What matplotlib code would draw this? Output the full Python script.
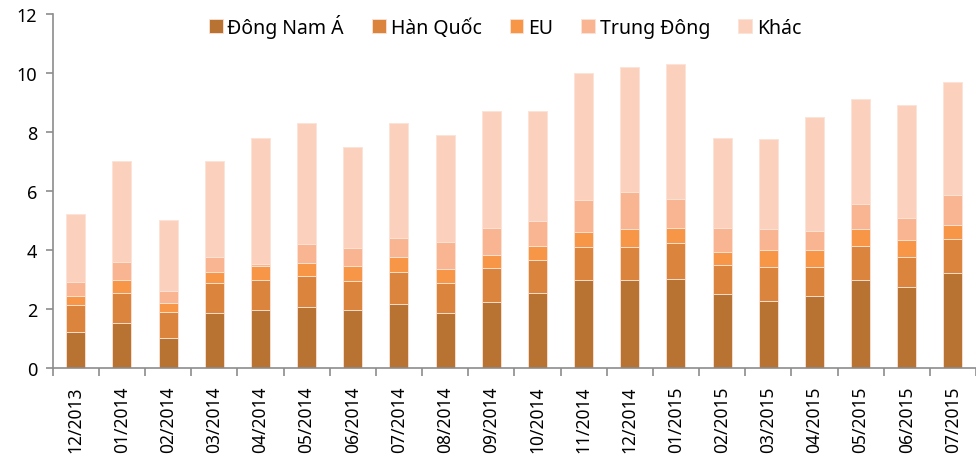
import matplotlib
matplotlib.use('Agg')
import matplotlib.pyplot as plt
import numpy as np

plt.rcParams['font.family'] = ['Noto Sans', 'DejaVu Sans']

thang = ['12/2013', '01/2014', '02/2014', '03/2014', '04/2014', '05/2014', '06/2014',
         '07/2014', '08/2014', '09/2014', '10/2014', '11/2014', '12/2014', '01/2015',
         '02/2015', '03/2015', '04/2015', '05/2015', '06/2015', '07/2015']

dong_nam_a = [1.20, 1.53, 1.00, 1.87, 1.97, 2.07, 1.97, 2.17, 1.87, 2.24,
              2.55, 2.99, 2.99, 3.01, 2.50, 2.28, 2.43, 2.99, 2.75, 3.21]
han_quoc = [0.94, 1.02, 0.90, 1.00, 1.01, 1.04, 0.97, 1.09, 1.02, 1.16,
            1.12, 1.12, 1.12, 1.22, 0.99, 1.15, 1.00, 1.14, 1.02, 1.16]
eu = [0.29, 0.43, 0.31, 0.39, 0.47, 0.46, 0.51, 0.50, 0.47, 0.43,
      0.45, 0.50, 0.60, 0.50, 0.44, 0.57, 0.57, 0.58, 0.58, 0.48]
trung_dong = [0.49, 0.60, 0.38, 0.50, 0.06, 0.62, 0.61, 0.64, 0.91, 0.90,
              0.86, 1.08, 1.24, 1.00, 0.80, 0.71, 0.64, 0.85, 0.73, 1.01]
khac = [2.28, 3.42, 2.41, 3.24, 4.29, 4.11, 3.44, 3.90, 3.63, 3.97,
        3.72, 4.31, 4.25, 4.57, 3.07, 3.04, 3.86, 3.54, 3.82, 3.84]

nhom = ['Đông Nam Á', 'Hàn Quốc', 'EU', 'Trung Đông', 'Khác']
mau = ['#B87333', '#DB843D', '#F79646', '#F9B591', '#FBD0BD']

fig = plt.figure(figsize=(9.76, 4.64), dpi=100)
ax = fig.add_axes([0.054, 0.205, 0.946, 0.763])

x = np.arange(len(thang))
day = np.zeros(len(thang))
for ten, gt, c in zip(nhom, [dong_nam_a, han_quoc, eu, trung_dong, khac], mau):
    ax.bar(x, gt, bottom=day, width=0.41, color=c, label=ten,
           edgecolor='#FBE3D6', linewidth=0.6)
    day += np.array(gt)

ax.set_xlim(-0.5, len(thang) - 0.5)
ax.set_ylim(0, 12)
ax.set_yticks(range(0, 13, 2))
ax.tick_params(axis='y', labelsize=13, color='#8C8C8C', length=5, width=1.2, pad=6)

# nhan truc x nam giua cac vach
ax.set_xticks(x)
ax.set_xticklabels(thang, rotation=90, fontsize=12.5)
ax.tick_params(axis='x', length=0, pad=13)
ax.set_xticks(np.arange(-0.5, len(thang), 1), minor=True)
ax.tick_params(axis='x', which='minor', length=6, width=1.2, color='#8C8C8C')

for s in ['top', 'right']:
    ax.spines[s].set_visible(False)
for s in ['left', 'bottom']:
    ax.spines[s].set_color('#8C8C8C')
    ax.spines[s].set_linewidth(1.2)

ax.legend(loc='upper center', bbox_to_anchor=(0.49, 1.05), ncol=5, frameon=False,
          fontsize=14, handlelength=0.7, handleheight=0.7, handletextpad=0.25,
          columnspacing=1.45)

fig.savefig('out.png', dpi=100)
